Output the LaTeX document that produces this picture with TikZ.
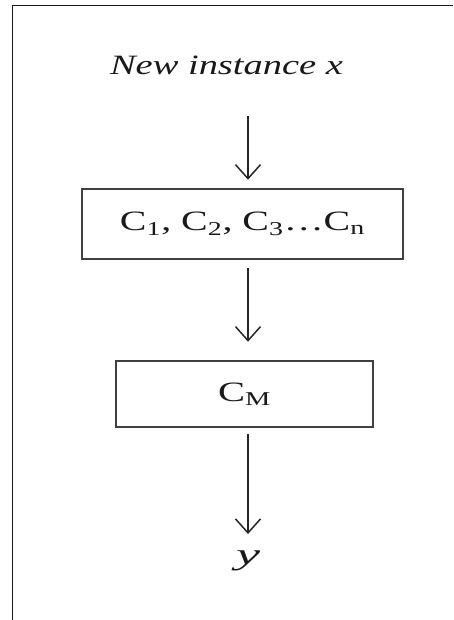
\documentclass[tikz,border=0pt]{standalone}
\usepackage{graphicx}
\usepackage{fontspec}
\setmainfont{Liberation Serif}
\usetikzlibrary{arrows.meta}
\begin{document}
\begin{tikzpicture}[x=1pt,y=-1pt,
  frame/.style={line width=1.4pt, black!90},
  boxnode/.style={draw=black!75, line width=2.5pt, inner sep=0pt},
  arr/.style={line width=1.5pt, black!85, -{Straight Barb[length=14pt,width=25pt,line width=1.5pt]}},
  lbl/.style={inner sep=0pt, text=black!90, font=\fontsize{28}{30}\selectfont}]
\useasboundingbox (0,0) rectangle (453,620);
\draw[frame] (453,5.5) -- (12.5,5.5) -- (12.5,620);
\node[lbl, anchor=base] (inst) at (226.5,75) {\resizebox{233pt}{\height}{\itshape New instance x}};
\node[boxnode, lbl, minimum width=321pt, minimum height=70pt] (b1) at (242.5,224)
  {\resizebox{245pt}{\height}{C\textsubscript{1}, C\textsubscript{2}, C\textsubscript{3}\ldots C\textsubscript{n}}};
\node[boxnode, lbl, minimum width=257pt, minimum height=66pt] (b2) at (244.5,394)
  {\resizebox{53pt}{\height}{C\textsubscript{M}}};
\node[lbl, anchor=base, font=\fontsize{30}{32}\selectfont] (y) at (248,564) {\resizebox{24pt}{\height}{\itshape y}};
\draw[arr, shorten <=41pt, shorten >=8pt] (inst.south -| y.north) -- (b1.north -| y.north);
\draw[arr, shorten <=8pt, shorten >=18pt] (b1.south -| y.north) -- (b2.north -| y.north);
\draw[arr, shorten <=6pt, shorten >=16pt] (b2.south -| y.north) -- (y.north);
\end{tikzpicture}
\end{document}
